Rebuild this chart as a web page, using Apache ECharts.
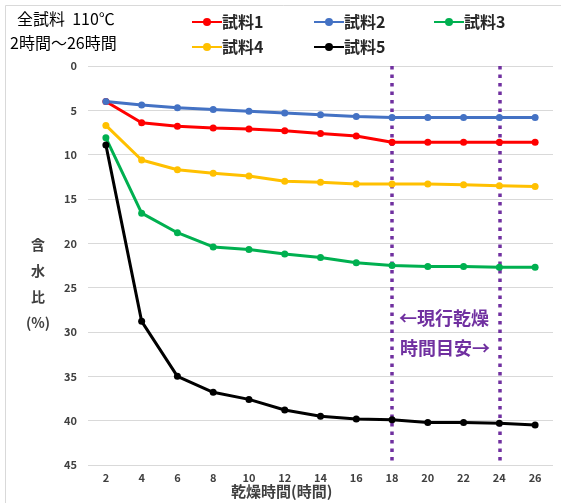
<!DOCTYPE html>
<html>
<head>
<meta charset="utf-8">
<script src="https://cdn.jsdelivr.net/npm/echarts@6/dist/echarts.min.js"></script>
<style>
  html, body { margin: 0; padding: 0; background: #fff; }
  #chart { width: 561px; height: 503px; }
</style>
</head>
<body>
<div id="chart"></div>
<script>
// Drying time (hours) and moisture ratio (%) of each sample at 110°C
const hours = ['2', '4', '6', '8', '10', '12', '14', '16', '18', '20', '22', '24', '26'];
const sample1 = [4.0, 6.4, 6.8, 7.0, 7.1, 7.3, 7.6, 7.9, 8.6, 8.6, 8.6, 8.6, 8.6];
const sample2 = [4.0, 4.4, 4.7, 4.9, 5.1, 5.3, 5.5, 5.7, 5.8, 5.8, 5.8, 5.8, 5.8];
const sample3 = [8.1, 16.6, 18.8, 20.4, 20.7, 21.2, 21.6, 22.2, 22.5, 22.6, 22.6, 22.7, 22.7];
const sample4 = [6.7, 10.6, 11.7, 12.1, 12.4, 13.0, 13.1, 13.3, 13.3, 13.3, 13.4, 13.5, 13.6];
const sample5 = [8.9, 28.8, 35.0, 36.8, 37.6, 38.8, 39.5, 39.8, 39.9, 40.2, 40.2, 40.3, 40.5];
const yTicks = { min: 0, max: 45, interval: 5 };
const guideHours = ['18', '24'];

const FONT = '"Noto Sans CJK JP", "Noto Sans", sans-serif';
const PURPLE = '#7030A0';

function lineSeries(name, data, color) {
  return {
    name: name,
    type: 'line',
    data: data,
    symbol: 'circle',
    symbolSize: 7,
    itemStyle: { color: color },
    lineStyle: { color: color, width: 3 },
    z: 3
  };
}

const series = [
  lineSeries('試料1', sample1, '#FF0000'),
  lineSeries('試料2', sample2, '#4472C4'),
  lineSeries('試料3', sample3, '#00B050'),
  lineSeries('試料4', sample4, '#FFC000'),
  lineSeries('試料5', sample5, '#000000')
];
// Dotted guides marking the current drying-time window
series[0].markLine = {
  silent: true,
  symbol: 'none',
  label: { show: false },
  lineStyle: { color: PURPLE, width: 3.5, type: [3.5, 5], cap: 'butt' },
  data: guideHours.map(h => ({ xAxis: h })),
  z: 2
};

function legendAt(name, left, top) {
  return {
    data: [name],
    left: left,
    top: top,
    itemWidth: 30,
    itemHeight: 10,
    itemGap: 0,
    textStyle: { fontFamily: FONT, fontSize: 16, fontWeight: 'bold', color: '#262626', padding: [0, 0, 0, -5] }
  };
}

const chart = echarts.init(document.getElementById('chart'), null, { renderer: 'canvas' });
chart.setOption({
  backgroundColor: '#fff',
  animation: false,
  grid: { left: 88, right: 8, top: 66, bottom: 38 },
  legend: [
    legendAt('試料1', 186, 9),
    legendAt('試料2', 308, 9),
    legendAt('試料3', 428, 9),
    legendAt('試料4', 186, 34),
    legendAt('試料5', 308, 34)
  ],
  xAxis: {
    type: 'category',
    data: hours,
    boundaryGap: true,
    axisLine: { show: false },
    axisTick: { show: false },
    axisLabel: { fontFamily: FONT, fontSize: 11, fontWeight: 'bold', color: '#404040', margin: 7 }
  },
  yAxis: {
    type: 'value',
    inverse: true,
    min: yTicks.min,
    max: yTicks.max,
    interval: yTicks.interval,
    axisLine: { show: false },
    axisTick: { show: false },
    splitLine: { lineStyle: { color: '#D9D9D9', width: 1 } },
    axisLabel: { fontFamily: FONT, fontSize: 11, fontWeight: 'bold', color: '#404040', margin: 11 }
  },
  series: series,
  graphic: [
    {
      type: 'rect', silent: true, z: -1,
      shape: { x: 5.5, y: 5.5, width: 600, height: 600 },
      style: { fill: 'none', stroke: '#D9D9D9', lineWidth: 1 }
    },
    {
      type: 'text', left: 17, top: 11,
      style: { text: '全試料  110℃', font: '16px ' + FONT, fill: '#000' }
    },
    {
      type: 'text', left: 10, top: 35,
      style: { text: '2時間～26時間', font: '16px ' + FONT, fill: '#000' }
    },
    {
      type: 'text', x: 38, y: 232,
      style: {
        text: '含\n水\n比\n(%)', font: 'bold 14px ' + FONT, fill: '#404040',
        align: 'center', verticalAlign: 'top', lineHeight: 26
      }
    },
    {
      type: 'text', left: 231, top: 484,
      style: { text: '乾燥時間(時間)', font: 'bold 15px ' + FONT, fill: '#404040' }
    },
    {
      type: 'text', left: 399, top: 309,
      style: { text: '←現行乾燥', font: 'bold 18px ' + FONT, fill: PURPLE }
    },
    {
      type: 'text', left: 400, top: 339,
      style: { text: '時間目安→', font: 'bold 18px ' + FONT, fill: PURPLE }
    }
  ]
});
</script>
</body>
</html>
